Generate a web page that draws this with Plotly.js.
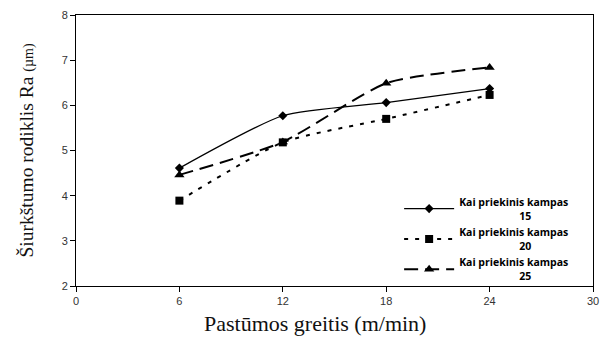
<!DOCTYPE html>
<html>
<head>
<meta charset="utf-8">
<script src="https://cdn.plot.ly/plotly-3.0.1.min.js"></script>
<style>html,body{margin:0;padding:0;background:#fff;}#chart{width:603px;height:337px;}</style>
</head>
<body>
<div id="chart"></div>
<script>
const feedRates = [6, 12, 18, 24];
const ra15 = [4.61, 5.77, 6.06, 6.37];
const ra20 = [3.89, 5.18, 5.70, 6.23];
const ra25 = [4.46, 5.19, 6.49, 6.84];
const anglesLabel = 'Kai priekinis kampas';
const angles = ['15', '20', '25'];
const xTicks = [0, 6, 12, 18, 24, 30];
const yTicks = [2, 3, 4, 5, 6, 7, 8];
const xTitle = 'Pastūmos greitis (m/min)';
const yTitle = 'Šiurkštumo rodiklis Ra <span style="font-size:14px">(µm)</span>';

function legendName(a) {
  return anglesLabel + '<br>                      ' + a;
}

const traces = [
  {x: feedRates, y: ra15, name: legendName(angles[0]), mode: 'lines+markers',
   line: {color: '#000', width: 1.2, shape: 'spline', smoothing: 0.6},
   marker: {symbol: 'diamond', size: 7, color: '#000'}},
  {x: feedRates, y: ra20, name: legendName(angles[1]), mode: 'lines+markers',
   line: {color: '#000', width: 2, dash: '4px,7px', shape: 'spline', smoothing: 0.6},
   marker: {symbol: 'square', size: 8, color: '#000'}},
  {x: feedRates, y: ra25, name: legendName(angles[2]), mode: 'lines+markers',
   line: {color: '#000', width: 2, dash: '14px,7px', shape: 'spline', smoothing: 0.6},
   marker: {symbol: 'triangle-up', size: 9, color: '#000'}}
];

const layout = {
  width: 603, height: 337,
  margin: {l: 76, r: 10, t: 15, b: 51},
  paper_bgcolor: '#fff', plot_bgcolor: '#fff',
  showlegend: true,
  legend: {x: 0.625, y: 0.36, xanchor: 'left', yanchor: 'top',
    bgcolor: 'rgba(0,0,0,0)', borderwidth: 0, tracegroupgap: 0, itemwidth: 50,
    font: {family: 'Open Sans, Liberation Sans, Arial, sans-serif', size: 10.5, color: '#000', weight: 'bold'}},
  xaxis: {range: [0, 30], tickvals: xTicks, ticks: 'outside', ticklen: 5, tickcolor: '#000',
    showgrid: false, zeroline: false, showline: true, linecolor: '#000', linewidth: 1, mirror: true,
    tickfont: {family: 'Liberation Sans, Arial, sans-serif', size: 11, color: '#333'}},
  yaxis: {range: [2, 8], tickvals: yTicks, ticks: 'outside', ticklen: 5, tickcolor: '#000',
    showgrid: false, zeroline: false, showline: true, linecolor: '#000', linewidth: 1, mirror: true,
    tickfont: {family: 'Liberation Sans, Arial, sans-serif', size: 11, color: '#333'},
    title: {text: yTitle, standoff: 22,
      font: {family: 'Liberation Serif, Times New Roman, serif', size: 19.5, color: '#111'}}},
  annotations: [{
    text: xTitle, xref: 'paper', yref: 'paper', x: 0.462, y: -0.14,
    xanchor: 'center', yanchor: 'middle', showarrow: false,
    font: {family: 'Liberation Serif, Times New Roman, serif', size: 22, color: '#111'}
  }]
};

Plotly.newPlot('chart', traces, layout, {displayModeBar: false, staticPlot: true});
</script>
</body>
</html>
